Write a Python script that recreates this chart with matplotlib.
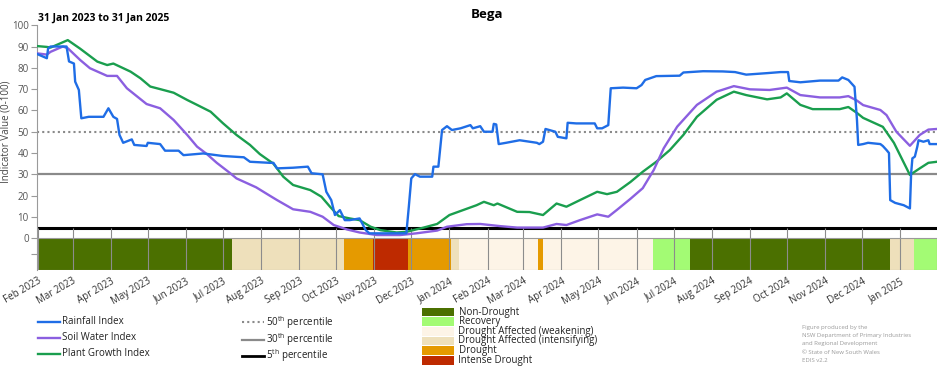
import pandas as pd
import matplotlib
matplotlib.use('Agg')
import matplotlib.pyplot as plt
import matplotlib.dates as mdates
from matplotlib.lines import Line2D
from matplotlib.patches import Rectangle

plt.rcParams['font.family'] = ['Open Sans', 'DejaVu Sans']
plt.rcParams['mathtext.fontset'] = 'custom'
plt.rcParams['mathtext.rm'] = 'Open Sans'

start = pd.Timestamp('2023-01-31')
end = pd.Timestamp('2025-01-31')

# days since 31 Jan 2023, index values
rain_days = [0, 8, 9, 11, 24, 26, 30, 31, 34, 36, 42, 54, 58, 62, 65, 67, 70, 77, 79, 89, 90, 100,
             104, 115, 119, 135, 151, 168, 173, 189, 192, 195, 208, 220, 223, 232, 235, 239, 242,
             246, 250, 254, 262, 267, 270, 300, 302, 304, 307, 311, 321, 322, 326, 329, 333, 337,
             344, 352, 354, 360, 363, 370, 371, 373, 375, 381, 392, 406, 408, 411, 413, 421, 423,
             430, 431, 438, 453, 455, 459, 464, 466, 476, 487, 491, 494, 503, 522, 525, 541, 557,
             567, 576, 593, 604, 610, 611, 620, 636, 651, 654, 659, 664, 666, 667, 671, 675, 685,
             687, 690, 692, 693, 697, 704, 709, 710, 711, 713, 715, 716, 720, 724, 725, 731]
rain_vals = [86.5, 84.5, 89, 90, 90, 83, 82, 73.5, 69.6, 56.3, 57, 57, 61, 57, 56, 48.5, 44.8, 46.4,
             43.8, 43.3, 44.8, 44.2, 41.1, 41.1, 39, 39.8, 38.6, 38, 35.9, 35.4, 35.4, 32.8, 33.1,
             33.6, 30.5, 30, 21.8, 17.9, 10.9, 13.2, 8.5, 8.5, 9.3, 3.8, 2.3, 2.3, 14.8, 28.1, 30.1,
             28.9, 28.9, 33.6, 33.6, 50.8, 52.6, 50.8, 51.6, 53.1, 51.6, 52.6, 50, 50, 53.7, 53.4,
             44.2, 44.8, 46, 44.8, 44.2, 45.3, 51.3, 50, 47.6, 46.9, 54.2, 53.9, 53.9, 51.6, 51.6,
             53.1, 70.4, 70.7, 70.4, 71.9, 74.3, 76.1, 76.3, 77.8, 78.4, 78.3, 78, 76.8, 77.5, 78,
             78, 73.8, 73.2, 74, 74, 75.5, 74.3, 71.1, 55.5, 43.8, 44.2, 44.8, 44.2, 43.3, 41.4, 40,
             17.9, 16.6, 15.5, 14, 30.5, 37.5, 38.3, 43, 46, 45.3, 46, 44.2, 44.2]

soil_days = [0, 8, 11, 21, 25, 35, 43, 57, 65, 73, 89, 100, 111, 122, 130, 138, 146, 157, 162, 178,
             189, 195, 208, 222, 232, 241, 252, 262, 276, 295, 308, 325, 333, 349, 360, 368, 376,
             390, 411, 422, 430, 441, 455, 464, 471, 482, 492, 501, 509, 520, 536, 552, 566, 579,
             595, 609, 620, 636, 652, 659, 666, 671, 685, 690, 698, 709, 717, 724, 731]
soil_vals = [86.8, 86.2, 87.5, 90, 89.2, 83.7, 79.8, 76.2, 76.2, 70.4, 63, 61, 55.5, 48.5, 43, 39.5,
             35.4, 30.5, 28.1, 23.9, 20, 17.9, 13.6, 12.4, 10.1, 6.2, 4.1, 2.7, 1.5, 1.5, 2.3, 3.6,
             5.4, 6.6, 6.7, 6.2, 5.7, 5, 5, 6.7, 6.2, 8.5, 11.2, 10.1, 13.3, 18.5, 23.5, 32.1, 42.2,
             52.4, 62.6, 68.8, 71.4, 69.9, 69.6, 70.7, 67.2, 66.1, 66.1, 66.7, 64.6, 62.5, 60.2,
             57.8, 50, 43.4, 48.5, 51, 51.3]

plant_days = [0, 8, 11, 25, 35, 49, 57, 62, 76, 84, 92, 100, 111, 122, 130, 141, 151, 162, 173,
              181, 192, 200, 208, 222, 231, 238, 245, 254, 262, 271, 279, 292, 300, 314, 325, 335,
              346, 357, 363, 371, 374, 390, 400, 411, 422, 430, 441, 455, 463, 471, 482, 492, 503,
              514, 525, 536, 552, 566, 576, 593, 604, 609, 620, 630, 652, 659, 666, 671, 687, 696,
              709, 717, 724, 731]
plant_vals = [90.2, 89.8, 89.5, 93, 89, 82.9, 81.3, 82, 78.2, 75.1, 71.2, 70, 68.3, 64.9, 62.6, 59.4,
              54, 48.5, 43.8, 39.5, 35, 28.9, 25, 22.6, 19.5, 14.8, 10.4, 9.3, 8.5, 5.4, 3.8, 2.7,
              3, 5, 6.7, 10.9, 13.2, 15.5, 17.1, 15.5, 16.3, 12.4, 12.3, 10.9, 16.3, 14.8, 17.9,
              21.8, 20.7, 21.8, 26.4, 31.2, 35.9, 41.4, 48.5, 57, 65, 68.8, 67.2, 65.2, 66.1, 68,
              62.6, 60.6, 60.6, 61.6, 58.8, 56.5, 52.3, 44.8, 29.7, 32.8, 35.4, 35.9]

# drought stage periods (start dates), last one ends on 31 Jan 2025
stage_starts = ['2023-01-31', '2023-07-08', '2023-10-07', '2023-10-31', '2023-11-28', '2024-01-02',
                '2024-01-09', '2024-03-13', '2024-03-17', '2024-06-14', '2024-07-14', '2024-12-24',
                '2025-01-12']
stage_names = ['Non-Drought', 'Drought Affected (intensifying)', 'Drought', 'Intense Drought',
               'Drought', 'Drought Affected (intensifying)', 'Drought Affected (weakening)',
               'Drought', 'Drought Affected (weakening)', 'Recovery', 'Non-Drought',
               'Drought Affected (intensifying)', 'Recovery']

stage_colors = {
    'Non-Drought': '#4b7000',
    'Recovery': '#a3fb74',
    'Drought Affected (weakening)': '#fdf4e7',
    'Drought Affected (intensifying)': '#eee0bb',
    'Drought': '#e59a00',
    'Intense Drought': '#be2a00',
}

W, H = 952, 370
fig = plt.figure(figsize=(W / 100, H / 100), dpi=100)
ax = fig.add_axes([37 / W, 1 - 270.2 / H, 900 / W, 245 / H])


def to_dates(days):
    return start + pd.to_timedelta(days, unit='D')


# percentile lines
ax.axhline(50, color='#8a8a8a', lw=1.5, ls=(0, (1, 1.5)), zorder=2)
ax.axhline(30, color='#8a8a8a', lw=1.6, zorder=2)
ax.axhline(5, color='black', lw=2.2, zorder=2)

# drought stage bar
edges = list(pd.to_datetime(stage_starts)) + [end]
for i, name in enumerate(stage_names):
    x0 = mdates.date2num(edges[i])
    x1 = mdates.date2num(edges[i + 1])
    ax.bar(x0, 15, width=x1 - x0, bottom=-15, align='edge', color=stage_colors[name],
           linewidth=0, zorder=1)
ax.add_patch(Rectangle((mdates.date2num(start), -15), mdates.date2num(end) - mdates.date2num(start),
                       15, fill=False, edgecolor='#9a9a9a', lw=0.8, zorder=4))

months = pd.date_range('2023-02-01', '2025-01-01', freq='MS')
ax.vlines(months, -15, 5, color='#8c8c8c', lw=0.8, zorder=3)

ax.plot(to_dates(plant_days), plant_vals, color='#1a9e4e', lw=1.7, zorder=5)
ax.plot(to_dates(soil_days), soil_vals, color='#8b5fe0', lw=1.7, zorder=6)
ax.plot(to_dates(rain_days), rain_vals, color='#1f6de6', lw=1.7, zorder=7)

ax.set_xlim(start, end)
ax.set_ylim(-15, 100)
ax.set_xticks(months)
ax.xaxis.set_major_formatter(mdates.DateFormatter('%b %Y'))
ax.tick_params(axis='x', length=0, pad=4, labelsize=7, labelcolor='#333333')
for lab in ax.get_xticklabels():
    lab.set_rotation(30)
    lab.set_ha('right')
    lab.set_rotation_mode('anchor')
ax.set_yticks([-7.5] + list(range(0, 101, 10)))
ax.set_yticklabels([''] + [str(v) for v in range(0, 101, 10)])
ax.tick_params(axis='y', length=4, width=0.8, color='#9a9a9a', labelsize=7, labelcolor='#555555',
               pad=2)
for s in ['top', 'right', 'bottom']:
    ax.spines[s].set_visible(False)
ax.spines['left'].set_color('#9a9a9a')
ax.spines['left'].set_linewidth(0.8)
ax.set_ylabel('Indicator Value (0-100)', fontsize=7, color='#444444')
ax.yaxis.set_label_coords(-0.028, 65 / 115)


def fx(x):
    return x / W


def fy(y):
    return 1 - y / H


fig.text(fx(487), fy(14.5), 'Bega', fontsize=9.5, fontweight='bold', ha='center', va='center')
fig.text(fx(37.5), fy(18.3), '31 Jan 2023 to 31 Jan 2025', fontsize=7.5, fontweight='bold',
         ha='left', va='center')

# legend: indices
idx_items = [('Rainfall Index', '#1f6de6', 321.7), ('Soil Water Index', '#8b5fe0', 337.7),
             ('Plant Growth Index', '#1a9e4e', 354)]
for label, col, y in idx_items:
    fig.add_artist(Line2D([fx(37.5), fx(59.5)], [fy(y), fy(y)], color=col, lw=1.7))
    fig.text(fx(62), fy(y), label, fontsize=7, va='center', ha='left', color='#222222')

pct_items = [(r'50$^{\rm th}$ percentile', '#8a8a8a', (0, (1, 1.5)), 1.5, 322.3),
             (r'30$^{\rm th}$ percentile', '#8a8a8a', '-', 1.6, 340),
             (r'5$^{\rm th}$ percentile', 'black', '-', 2.0, 356)]
for label, col, ls, lw, y in pct_items:
    fig.add_artist(Line2D([fx(242.5), fx(263.5)], [fy(y), fy(y)], color=col, lw=lw, ls=ls))
    fig.text(fx(266), fy(y), label, fontsize=7, va='center', ha='left', color='#222222')

stage_order = ['Non-Drought', 'Recovery', 'Drought Affected (weakening)',
               'Drought Affected (intensifying)', 'Drought', 'Intense Drought']
for i, name in enumerate(stage_order):
    y = 312 + i * 9.66
    fig.add_artist(Rectangle((fx(421.7), fy(y + 4.2)), 32.6 / W, 8.4 / H,
                             color=stage_colors[name], lw=0, transform=fig.transFigure))
    fig.text(fx(458.5), fy(y), name, fontsize=7, va='center', ha='left', color='#222222')

credit = ['Figure produced by the', 'NSW Department of Primary Industries',
          'and Regional Development', '\u00a9 State of New South Wales', 'EDIS v2.2']
for i, line in enumerate(credit):
    fig.text(fx(801.5), fy(327.3 + i * 8.25), line, fontsize=4.3, va='center', ha='left',
             color='#9a9a9a')

fig.savefig('out.png', dpi=100)
